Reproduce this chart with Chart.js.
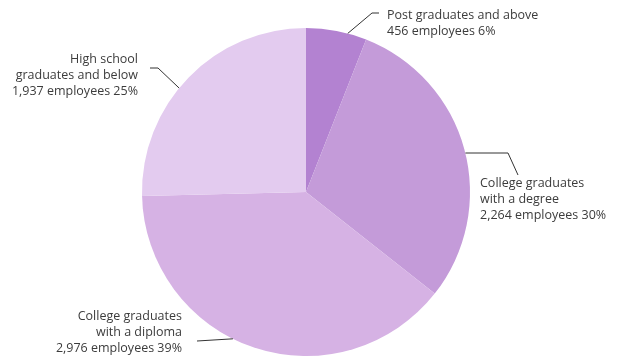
<!DOCTYPE html>
<html>
<head>
<meta charset="utf-8">
<script src="https://cdn.jsdelivr.net/npm/chart.js@4/dist/chart.umd.min.js"></script>
<style>
  html, body { margin: 0; padding: 0; background: #fff; }
  #wrap { width: 625px; height: 356px; }
</style>
</head>
<body>
<div id="wrap"><canvas id="pie"></canvas></div>
<script>
// Staff by education level
const categories = [
  ['Post graduates and above'],
  ['College graduates', 'with a degree'],
  ['College graduates', 'with a diploma'],
  ['High school', 'graduates and below']
];
const employees = [456, 2264, 2976, 1937];
const percents = [6, 30, 39, 25];
const sliceColors = ['#b382d1', '#c49bd9', '#d6b2e4', '#e3cbef'];

// leader line + label layout for each slice: angle tweak at the rim, elbow, text anchor
const callouts = [
  { nudge: 4, elbow: [372, 13], end: [379, 13], text: [387, 15], align: 'left' },
  { nudge: 1.5, elbow: [508, 153], end: [518, 175], text: [480, 183], align: 'left', flat: true },
  { nudge: 8, elbow: [197, 341], end: null, text: [182, 316], align: 'right' },
  { nudge: -5, elbow: [158, 68], end: [150, 68], text: [138, 59], align: 'right' }
];

const fmt = n => n.toLocaleString('en-US');

const calloutPlugin = {
  id: 'callouts',
  afterDraw(chart) {
    const { ctx } = chart;
    const arcs = chart.getDatasetMeta(0).data;
    ctx.save();
    ctx.strokeStyle = '#333';
    ctx.lineWidth = 1;
    ctx.fillStyle = '#3c3c3c';
    ctx.font = '12.5px "Open Sans", sans-serif';
    ctx.textBaseline = 'middle';
    arcs.forEach((arc, i) => {
      const c = callouts[i];
      const mid = (arc.startAngle + arc.endAngle) / 2 + c.nudge * Math.PI / 180;
      const px = arc.x + Math.cos(mid) * arc.outerRadius;
      const py = arc.y + Math.sin(mid) * arc.outerRadius;
      ctx.beginPath();
      if (c.flat) {
        // horizontal run out of the rim, then a short drop toward the text
        ctx.moveTo(px, c.elbow[1]);
        ctx.lineTo(c.elbow[0], c.elbow[1]);
        ctx.lineTo(c.end[0], c.end[1]);
      } else {
        ctx.moveTo(px, py);
        ctx.lineTo(c.elbow[0], c.elbow[1]);
        if (c.end) ctx.lineTo(c.end[0], c.end[1]);
      }
      ctx.stroke();
      const lines = categories[i].concat([fmt(employees[i]) + ' employees ' + percents[i] + '%']);
      ctx.textAlign = c.align;
      lines.forEach((t, k) => ctx.fillText(t, c.text[0], c.text[1] + k * 16.3));
    });
    ctx.restore();
  }
};

new Chart(document.getElementById('pie'), {
  type: 'pie',
  data: {
    labels: categories.map(c => c.join(' ')),
    datasets: [{
      data: employees,
      backgroundColor: sliceColors,
      borderWidth: 0
    }]
  },
  options: {
    responsive: true,
    maintainAspectRatio: false,
    animation: false,
    layout: { padding: { top: 28, bottom: 0, left: 0, right: 13 } },
    plugins: {
      legend: { display: false },
      tooltip: { enabled: false }
    }
  },
  plugins: [calloutPlugin]
});
</script>
</body>
</html>
